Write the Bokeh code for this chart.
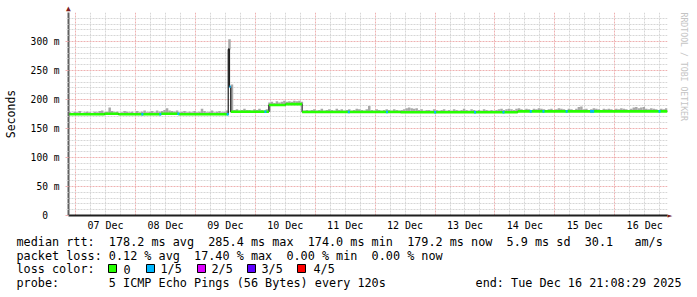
import math
from bokeh.plotting import figure
from bokeh.layouts import column
from bokeh.models import Range1d, FixedTicker, LinearAxis
from bokeh.core.properties import value
from bokeh.embed import file_html
from bokeh.resources import INLINE

# ---------------- data ----------------
# time is hours since start of graph (Tue Dec 6 21:08:29 2025), 10 days shown
day_labels = ["07 Dec", "08 Dec", "09 Dec", "10 Dec", "11 Dec",
              "12 Dec", "13 Dec", "14 Dec", "15 Dec", "16 Dec"]
y_tick_values = [0, 50, 100, 150, 200, 250, 300]
y_tick_labels = ["0\u00a0\u00a0", "50 m", "100 m", "150 m", "200 m", "250 m", "300 m"]

# median rtt (ms) as step segments; loss in fifths (-1 = drawn dark)
med_start = [0.0, 14.5, 20.0, 37.0, 44.0, 64.0, 64.5, 65.0, 80.3, 87.0, 93.6, 133.0, 180.0]
med_end   = [14.5, 20.0, 37.0, 44.0, 64.0, 64.5, 65.0, 80.3, 87.0, 93.6, 133.0, 180.0, 240.0]
med_ms    = [174.5, 175.5, 174.5, 175.5, 174.5, 286.0, 222.0, 179.0, 190.5, 192.0, 178.5, 178.0, 179.5]
med_loss  = [0, 0, 0, 0, 0, -1, 1, 0, 0, 0, 0, 0, 0]

# single samples with 1/5 packet loss (hours since start)
loss_h = [29.2, 36.4, 43.6, 63.4, 78.5, 111.9, 127.2, 146.5, 162.5,
          173.9, 184.8, 189.9, 199.2, 209.0, 209.8, 236.4]

# hourly top of the smoke (slowest ping, ms)
smoke_top = [
    178, 177, 179, 178, 180, 177, 178, 179, 178, 177, 179, 178, 180, 181, 178, 179, 186, 180, 178, 179, 177, 178, 180, 179,
    178, 179, 177, 180, 178, 179, 181, 178, 179, 180, 178, 181, 179, 180, 182, 185, 181, 180, 179, 181, 178, 179, 180, 178,
    179, 178, 180, 178, 179, 184, 180, 178, 179, 181, 178, 179, 180, 178, 179, 181, 304, 226, 182, 183, 181, 182, 184, 182,
    182, 181, 183, 182, 184, 182, 181, 183, 195, 196, 194, 197, 195, 196, 198, 196, 197, 196, 198, 197, 198, 196, 181, 182,
    181, 182, 183, 181, 182, 184, 181, 182, 183, 182, 181, 184, 182, 183, 181, 182, 183, 181, 182, 184, 183, 182, 181, 183,
    189, 182, 181, 183, 182, 181, 182, 183, 182, 181, 183, 182, 181, 182, 183, 185, 186, 185, 184, 185, 182, 183, 181, 182,
    182, 181, 183, 182, 181, 182, 183, 181, 182, 181, 183, 182, 181, 182, 184, 182, 181, 183, 182, 181, 182, 181, 183, 182,
    181, 182, 181, 182, 183, 184, 182, 183, 184, 183, 182, 184, 185, 183, 182, 184, 183, 182, 184, 183, 185, 184, 183, 182,
    183, 184, 182, 183, 185, 184, 183, 182, 184, 183, 182, 184, 187, 188, 183, 184, 182, 183, 185, 184, 183, 182, 184, 183,
    184, 183, 182, 184, 183, 185, 184, 183, 182, 184, 186, 187, 185, 186, 187, 184, 183, 185, 184, 183, 182, 184, 183, 185,
]

loss_names = ["0", "1/5", "2/5", "3/5", "4/5"]
loss_colors = ["#26ff00", "#00b8ff", "#dd00ff", "#5e00ff", "#ff0000"]

legend_rtt = "median rtt:  178.2 ms avg  285.4 ms max  174.0 ms min  179.2 ms now  5.9 ms sd  30.1   am/s"
legend_loss = "packet loss: 0.12 % avg  17.40 % max  0.00 % min  0.00 % now"
legend_color = "loss color:"
legend_probe = "probe:       5 ICMP Echo Pings (56 Bytes) every 120s"
legend_end = "end: Tue Dec 16 21:08:29 2025"
watermark = "RRDTOOL / TOBI OETIKER"

# ---------------- geometry ----------------
START_H = -(2 + 51 / 60 + 31 / 3600)   # graph start relative to Dec 7 00:00
END_H = START_H + 240
Y_MAX = 350
W = 697
FL, FT, FW, FH = 67, 12, 600, 203       # frame left/top/width/height (px)
TOP_H = 234                             # height of the chart part
MONO = "DejaVu Sans Mono"
TXT = "#000000"


def nb(s):
    return s.replace(" ", "\u00a0")


p = figure(width=W, height=TOP_H, output_backend="svg", toolbar_location=None,
           x_range=Range1d(START_H, END_H), y_range=Range1d(0, Y_MAX),
           min_border_left=FL, min_border_right=W - FL - FW,
           min_border_top=FT, min_border_bottom=TOP_H - FT - FH,
           frame_align=False)
p.outline_line_color = None
p.background_fill_color = "white"
p.border_fill_color = "white"

# grids
midnights = [24 * k for k in range(11)]
six_hours = [6 * k for k in range(-1, 41) if k % 4 != 0]
noons = [12 + 24 * k for k in range(10)]
MAJ = "#eeb0b0"
MIN = "#d6d6d6"
p.xgrid.ticker = FixedTicker(ticks=midnights, minor_ticks=six_hours)
p.xgrid.grid_line_color = MAJ
p.xgrid.grid_line_dash = "2 1"
p.xgrid.minor_grid_line_color = MIN
p.xgrid.minor_grid_line_dash = "2 1"

y_minor = [v for v in range(0, 351, 10) if v % 50 != 0]
yt = FixedTicker(ticks=y_tick_values, minor_ticks=y_minor)
p.ygrid.ticker = yt
p.ygrid.grid_line_color = MAJ
p.ygrid.grid_line_dash = "2 1"
p.ygrid.minor_grid_line_color = MIN
p.ygrid.minor_grid_line_dash = "2 1"

# axes
xa = p.xaxis[0]
xa.ticker = FixedTicker(ticks=noons, minor_ticks=[])
xa.major_label_overrides = {n: lab for n, lab in zip(noons, day_labels)}
xa.major_tick_out = 0
xa.major_tick_in = 0
xa.minor_tick_out = 0
xa.major_label_standoff = 4
xa.major_label_text_font = MONO
xa.major_label_text_font_size = "10px"
xa.major_label_text_color = TXT
xa.axis_line_color = "#1f1f1f"
xa.axis_line_width = 2

ya = p.yaxis[0]
ya.ticker = yt
ya.major_label_overrides = {v: lab for v, lab in zip(y_tick_values, y_tick_labels)}
ya.major_tick_out = 3
ya.major_tick_in = 0
ya.minor_tick_out = 2
ya.minor_tick_in = 0
ya.major_tick_line_color = MAJ
ya.minor_tick_line_color = MIN
ya.major_label_standoff = 6
ya.major_label_text_font = MONO
ya.major_label_text_font_size = "9.6px"
ya.major_label_text_color = TXT
ya.axis_line_color = "#606060"
ya.axis_line_width = 2
ya.axis_label = "Seconds"
ya.axis_label_text_font = MONO
ya.axis_label_text_font_size = "11.5px"
ya.axis_label_text_font_style = "normal"
ya.axis_label_text_color = TXT
ya.axis_label_standoff = 10

AR = "#801f1f"


def marker_axis(pos, text, color, size, standoff, orientation):
    return LinearAxis(ticker=FixedTicker(ticks=[pos], minor_ticks=[]),
                      major_label_overrides={pos: text},
                      axis_line_color=None, major_tick_out=0, major_tick_in=0,
                      minor_tick_out=0, minor_tick_in=0,
                      major_label_standoff=standoff,
                      major_label_text_font=MONO,
                      major_label_text_font_size=size,
                      major_label_text_color=color,
                      major_label_orientation=orientation)


# arrow heads at the ends of the axes, watermark on the right
p.add_layout(marker_axis(START_H, "\u25b2", AR, "8px", 0, "horizontal"), "above")
p.add_layout(marker_axis(0, "\u25ba", AR, "8px", 0, "horizontal"), "right")
p.add_layout(marker_axis(Y_MAX, watermark, "#c4c4c4", "8.2px", 8, -math.pi / 2),
             "right")


def med_at(t):
    for s, e, v in zip(med_start, med_end, med_ms):
        if s <= t < e:
            return v
    return med_ms[-1]


# smoke
sl = [START_H + i for i in range(len(smoke_top))]
sr = [START_H + i + 1 for i in range(len(smoke_top))]
sb = [med_at(i + 0.25) for i in range(len(smoke_top))]
p.quad(left=sl, right=sr, bottom=sb, top=smoke_top, fill_color="#a8a8a8",
       line_color=None)

# dark base median step line
xs, ys = [], []
for s, e, v in zip(med_start, med_end, med_ms):
    xs += [START_H + s, START_H + e]
    ys += [v, v]
p.line(xs, ys, line_color="#202020", line_width=1.2)

# coloured median segments
for code, col in [(0, loss_colors[0]), (-1, "#202020"), (1, loss_colors[1])]:
    x0 = [START_H + s for s, c in zip(med_start, med_loss) if c == code]
    x1 = [START_H + e for e, c in zip(med_end, med_loss) if c == code]
    yv = [v for v, c in zip(med_ms, med_loss) if c == code]
    p.segment(x0=x0, y0=yv, x1=x1, y1=yv, line_color=col, line_width=2.6,
              line_cap="butt")

# loss samples
lx0 = [START_H + h for h in loss_h]
lx1 = [START_H + h + 0.8 for h in loss_h]
ly = [med_at(h) for h in loss_h]
p.segment(x0=lx0, y0=ly, x1=lx1, y1=ly, line_color=loss_colors[1],
          line_width=2.6, line_cap="butt")

# ---------------- legend strip (pixel coordinates) ----------------
q = figure(width=W, height=297 - TOP_H, output_backend="svg", toolbar_location=None,
           x_range=Range1d(0, W), y_range=Range1d(297, TOP_H),
           x_axis_type=None, y_axis_type=None,
           min_border_left=0, min_border_right=0, min_border_top=0, min_border_bottom=0,
           frame_align=False)
q.outline_line_color = None
q.grid.visible = False
q.background_fill_color = "white"
q.border_fill_color = "white"

FS = value("11.8px")
rows_txt = [nb(legend_rtt), nb(legend_loss), nb(legend_color), nb(legend_probe)]
rows_y = [241, 255, 268.5, 282.5]
q.text(x=[16] * 4, y=rows_y, text=rows_txt, text_font=value(MONO),
       text_font_size=FS, text_baseline="middle", text_align="left",
       text_color=TXT)
q.text(x=[681], y=[282.5], text=[nb(legend_end)], text_font=value(MONO),
       text_font_size=FS, text_baseline="middle", text_align="right",
       text_color=TXT)

sq_px = [112, 150, 201, 251, 301]
tx_px = [123, 160, 211, 261, 313]
q.rect(x=sq_px, y=[268] * 5, width=8, height=8, fill_color=loss_colors,
       line_color="#000000", line_width=1)
q.text(x=tx_px, y=[268.5] * 5, text=loss_names, text_font=value(MONO),
       text_font_size=FS, text_baseline="middle", text_align="left",
       text_color=TXT)

open("out.html", "w").write(file_html(column(p, q, spacing=0), INLINE))
